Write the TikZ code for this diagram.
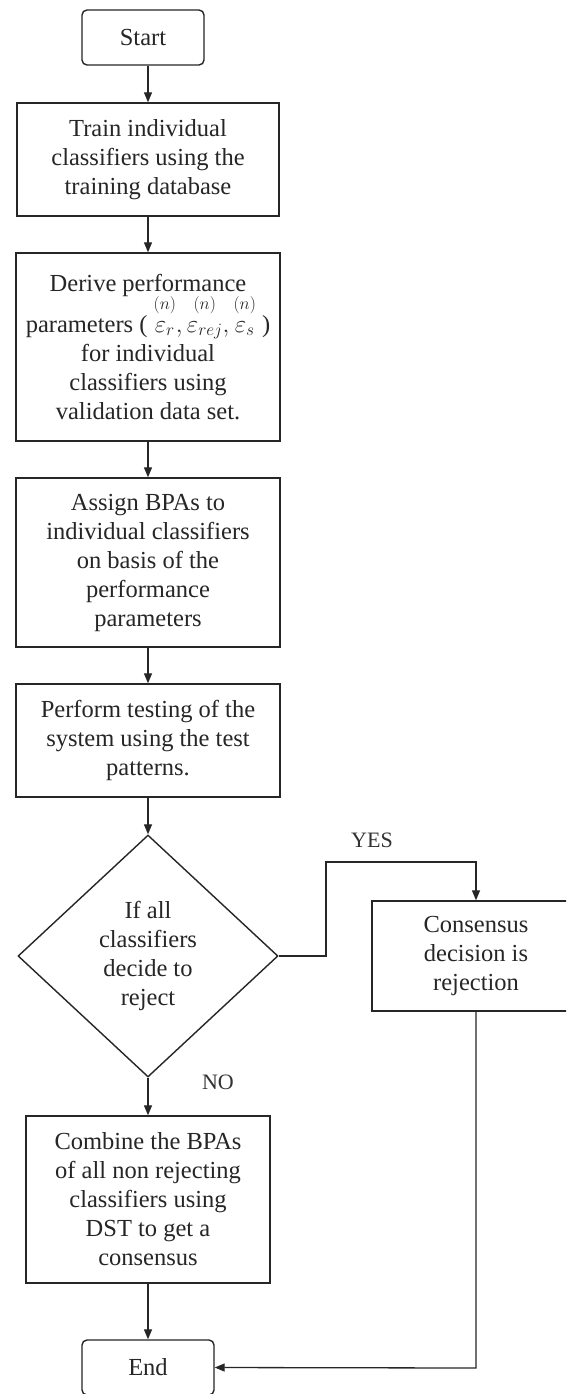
\documentclass[tikz,border=0pt]{standalone}
\usepackage{fontspec}
\setmainfont{Liberation Serif}
\usepackage{amsmath}
\usetikzlibrary{arrows.meta,shapes.geometric}

% epsilon with a small (n) stacked well above it
\newcommand{\epsn}[1]{\overset{\raisebox{7pt}{$\scriptstyle(n)$}}{\varepsilon_{#1}}}

\begin{document}
\begin{tikzpicture}[x=1pt,y=-1pt,
  every node/.style={font=\fontsize{24.5}{29}\selectfont, text=black!85},
  procbox/.style={draw=black!85, line width=1.4pt, rectangle, inner sep=0pt, align=center},
  termbox/.style={procbox, rounded corners=5pt},
  decision/.style={draw=black!85, line width=1.4pt, diamond, inner sep=0pt, align=center},
  flow/.style={draw=black!85, line width=1.3pt, -{Triangle[length=10pt,width=8pt]}},
  lbl/.style={font=\fontsize{22}{26}\selectfont, text=black!80}]
\useasboundingbox (0,0) rectangle (566,1394);
\clip (0,0) rectangle (566,1394);
\fill[white] (0,0) rectangle (566,1394);

% process steps
\node[termbox, minimum width=122pt, minimum height=55pt] (start) at (143,37.5) {Start};
\node[procbox, minimum width=262pt, minimum height=113pt] (train) at (148,159.5)
  {Train individual\\ classifiers using the\\ training database};
\node[procbox, minimum width=264pt, minimum height=188pt] (derive) at (148,347)
  {Derive performance\\[-4pt] parameters ( $\epsn{r},\epsn{rej},\epsn{s}$ )\\ for individual\\ classifiers using\\ validation data set.};
\node[procbox, minimum width=264pt, minimum height=169pt] (assign) at (148,562.5)
  {Assign BPAs to\\ individual classifiers\\ on basis of the\\ performance\\ parameters};
\node[procbox, minimum width=264pt, minimum height=113pt] (perform) at (148,740.5)
  {Perform testing of the\\ system using the test\\ patterns.};
\node[decision, minimum width=260pt, minimum height=242pt] (reject) at (148,956)
  {If all\\ classifiers\\ decide to\\ reject};
\node[procbox, minimum width=208pt, minimum height=110pt] (consensus) at (476,956)
  {Consensus\\ decision is\\ rejection};
\node[procbox, minimum width=244pt, minimum height=167pt] (combine) at (148,1199.5)
  {Combine the BPAs\\ of all non rejecting\\ classifiers using\\ DST to get a\\ consensus};
\node[termbox, minimum width=132pt, minimum height=55pt] (end) at (148,1367.5) {End};

% branch labels
\node[lbl] (yes) at (372,840) {YES};
\node[lbl] (no) at (218,1082) {NO};

% bend points of the side branches
\coordinate (yesA) at (326,956);
\coordinate (yesB) at (326,862);
\coordinate (yesC) at (476,862);
\coordinate (rejDown) at (476,1368);

% connectors
\draw[flow] (start.south -| train.north) -- (train.north);
\draw[flow] (train) -- (derive);
\draw[flow] (derive) -- (assign);
\draw[flow] (assign) -- (perform);
\draw[flow] (perform) -- (reject.north);
\draw[flow] (reject.east) -- (yesA) -- (yesB) -- (yesC) -- (consensus.north);
\draw[flow] (reject.south) -- (combine.north);
\draw[flow] (combine) -- (end);
\draw[flow] (consensus.south) -- (rejDown) -- (end.east);
\end{tikzpicture}
\end{document}
